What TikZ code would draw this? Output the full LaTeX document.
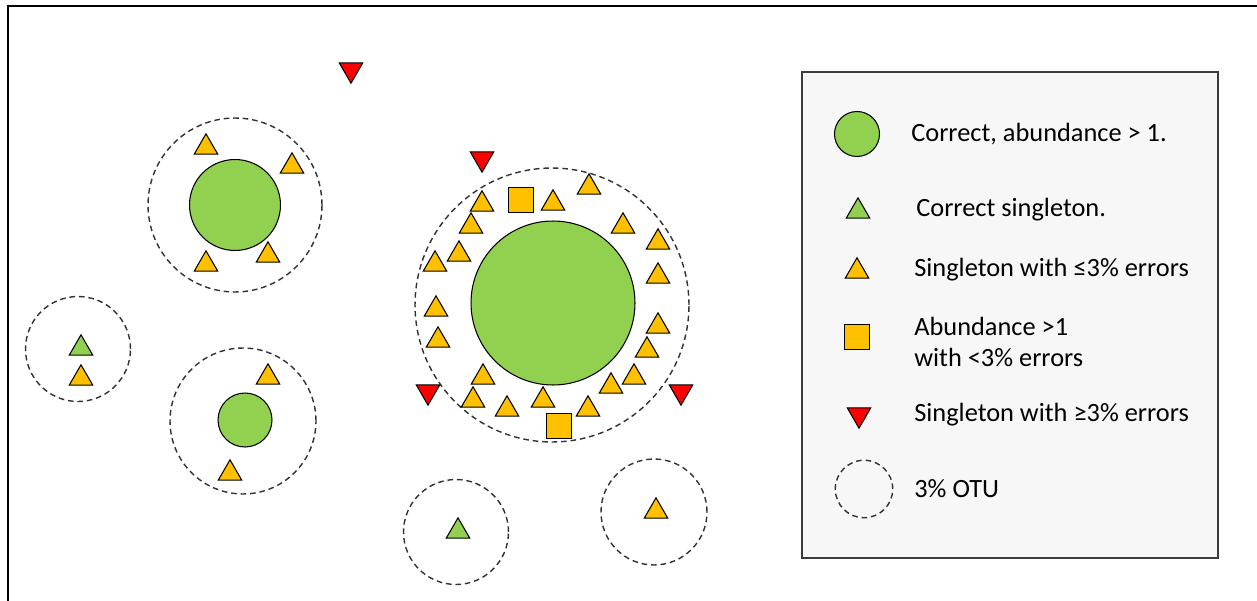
\documentclass[tikz,border=0pt]{standalone}
\usepackage{fontspec}
\setmainfont{Carlito}
\usetikzlibrary{shapes.geometric}
\definecolor{otugreen}{RGB}{146,208,80}
\definecolor{otuorange}{RGB}{255,192,0}
\definecolor{otured}{RGB}{255,0,0}
\definecolor{otudash}{RGB}{50,50,50}
\definecolor{legendfill}{RGB}{247,247,247}
\definecolor{legendline}{RGB}{60,60,60}

\tikzset{
  good/.style={circle,draw=black,fill=otugreen,line width=0.6pt,inner sep=0pt},
  uptri/.style={regular polygon,regular polygon sides=3,draw=black,line width=0.6pt,
    inner sep=0pt,minimum size=0.54cm,yshift=-0.066cm},
  goodtri/.style={uptri,fill=otugreen},
  lowtri/.style={uptri,fill=otuorange},
  badtri/.style={regular polygon,regular polygon sides=3,shape border rotate=180,
    draw=black,fill=otured,line width=0.6pt,inner sep=0pt,minimum size=0.54cm,yshift=0.066cm},
  lowsq/.style={rectangle,draw=black,fill=otuorange,line width=0.6pt,inner sep=0pt,minimum size=0.5cm},
  otu/.style={circle,draw=otudash,line width=0.8pt,dash pattern=on 3.2pt off 2.2pt,inner sep=0pt},
  legtext/.style={anchor=west,font=\fontsize{15}{17.6}\selectfont,align=left,inner sep=0pt}
}

\begin{document}
\begin{tikzpicture}[x=0.02cm,y=-0.02cm]
  \useasboundingbox (0,0) rectangle (1257,601);
  % frame
  \draw[line width=1.1pt] (8,601) -- (8,6) -- (1257,6);

  % otus
  \foreach \name/\xpos/\ypos/\dia in {
    otuA/235/205/3.48,
    otuB/78/349/2.1,
    otuC/243/421/2.92,
    otuD/552/305/5.48,
    otuE/456/532/2.1,
    otuF/654/512/2.12}{
    \node[otu,minimum size=\dia cm] (\name) at (\xpos,\ypos) {};
  }

  % correct sequences with abundance > 1
  \node[good,minimum size=1.82cm] (ctrA) at (235,205) {};
  \node[good,minimum size=1.08cm] (ctrC) at (245,420) {};
  \node[good,minimum size=3.28cm] (ctrD) at (553,303) {};

  % correct singletons
  \node[goodtri] (gtB) at (81,345) {};
  \node[goodtri] (gtE) at (458,528) {};

  % singletons with few errors
  \foreach \xpos/\ypos [count=\i] in {
    206/144, 292/163, 206/261, 268/252,
    81/375, 268/374, 230/470, 656/508,
    482/201, 553/200, 589/184, 471/223, 459/251, 435/261,
    623/223, 658/239, 658/273, 436/306, 438/337, 658/323,
    647/347, 634/374, 611/383, 483/374, 473/397, 507/406,
    543/397, 588/406}{
    \node[lowtri] (lt\i) at (\xpos,\ypos) {};
  }

  % abundant with errors
  \node[lowsq] (sq1) at (521,200) {};
  \node[lowsq] (sq2) at (559,426) {};

  % singletons with many errors
  \foreach \xpos/\ypos [count=\i] in {351/73, 482/162, 428/395, 681/395}{
    \node[badtri] (bt\i) at (\xpos,\ypos) {};
  }

  % legend
  \draw[legendline,fill=legendfill,line width=0.9pt] (802,72) rectangle (1218,558);
  \node[good,minimum size=0.9cm] (keyA) at (857,134) {};
  \node[goodtri] (keyB) at (858,208) {};
  \node[lowtri] (keyC) at (857,268) {};
  \node[lowsq] (keyD) at (857,337) {};
  \node[badtri] (keyE) at (859,418) {};
  \node[otu,minimum size=1.15cm] (keyF) at (864,489) {};
  \node[legtext] (txtA) at (911,134) {Correct, abundance > 1.};
  \node[legtext] (txtB) at (916,210) {Correct singleton.};
  \node[legtext] (txtC) at (914,270) {Singleton with ≤3\% errors};
  \node[legtext] (txtD) at (914,342) {Abundance >1\\with <3\% errors};
  \node[legtext] (txtE) at (914,415) {Singleton with ≥3\% errors};
  \node[legtext] (txtF) at (914,489) {3\% OTU};
\end{tikzpicture}
\end{document}
